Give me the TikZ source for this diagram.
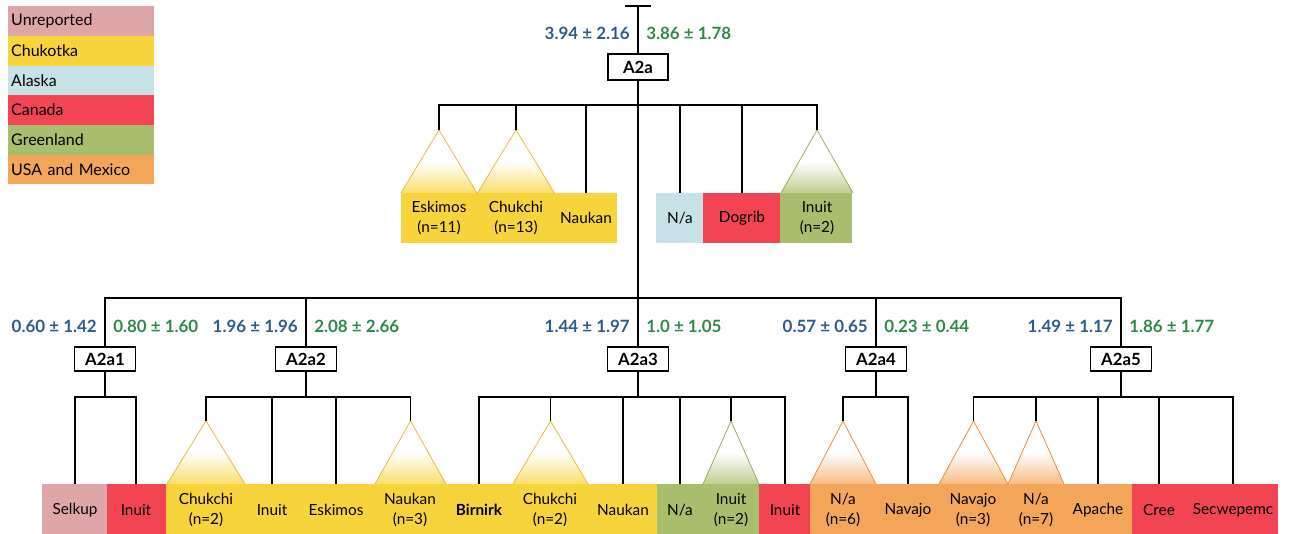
\documentclass[tikz,border=0pt]{standalone}
\usepackage{fontspec}
\setmainfont{Lato}
\usetikzlibrary{calc}
\definecolor{cUnrep}{HTML}{DFA6A7}
\definecolor{cChuk}{HTML}{F8D43C}
\definecolor{cAlas}{HTML}{C6E2E7}
\definecolor{cCan}{HTML}{F24453}
\definecolor{cGreen}{HTML}{A9BE6C}
\definecolor{cUSA}{HTML}{F3A55A}
\definecolor{cBlue}{HTML}{2D5B8C}
\definecolor{cGrn}{HTML}{2E8A4A}
\definecolor{oChuk}{HTML}{E6BC3C}
\definecolor{oGreen}{HTML}{98B062}
\definecolor{oUSA}{HTML}{EE8E3C}
\begin{document}
\begin{tikzpicture}[x=0.75pt,y=-0.75pt,
  br/.style={line width=1.4pt, black},
  hap/.style={draw, line width=1.4pt, fill=white, font=\bfseries\fontsize{12.6}{14}\selectfont, minimum width=45.75pt, minimum height=18pt, inner sep=0pt},
  lf/.style={font=\fontsize{11.5}{15}\selectfont, align=center, inner sep=0pt},
  vb/.style={anchor=east, text=cBlue, font=\bfseries\fontsize{12.7}{14}\selectfont, inner sep=0pt},
  vg/.style={anchor=west, text=cGrn, font=\bfseries\fontsize{12.7}{14}\selectfont, inner sep=0pt},
  leg/.style={anchor=north west, minimum height=22.25pt, text width=105.05pt, inner xsep=2.2pt, inner ysep=0pt, align=left, font=\fontsize{12}{14}\selectfont},
  tri/.style={line width=0.6pt},
]
\useasboundingbox (0,0) rectangle (1293,534);

% ---------- legend ----------
\node[leg, fill=cUnrep] (lg1) at (8,6) {Unreported};
\node[leg, fill=cChuk] (lg2) at (8,35.67) {Chukotka};
\node[leg, fill=cAlas] (lg3) at (8,65.33) {Alaska};
\node[leg, fill=cCan] (lg4) at (8,95) {Canada};
\node[leg, fill=cGreen] (lg5) at (8,124.67) {Greenland};
\node[leg, fill=cUSA] (lg6) at (8,154.33) {USA and Mexico};

% ---------- colour bands ----------
\fill[cChuk] (401,193) rectangle (617,243);
\fill[cAlas] (656,193) rectangle (703,243);
\fill[cCan] (703,193) rectangle (780,243);
\fill[cGreen] (780,193) rectangle (852,243);

\fill[cUnrep] (42,484) rectangle (107,534);
\fill[cCan] (107,484) rectangle (166,534);
\fill[cChuk] (166,484) rectangle (657,534);
\fill[cGreen] (657,484) rectangle (759,534);
\fill[cCan] (759,484) rectangle (810,534);
\fill[cUSA] (810,484) rectangle (1132,534);
\fill[cCan] (1132,484) rectangle (1278,534);

% ---------- triangles (collapsed clades) ----------
\newcommand{\clade}[5]{% name, x, half width, apex y, colour
  \coordinate (#1) at (#2,#4);
  \shade[top color=white, bottom color=#5!75, middle color=white] (#1) -- ++(-#3,63) -- ++(2*#3,0) -- cycle;
}
\clade{tEsk}{439}{38}{130}{cChuk}
\clade{tChk}{516}{38.5}{130}{cChuk}
\clade{tInu}{817}{36}{130}{cGreen}
\clade{tChk2}{206}{39}{421}{cChuk}
\clade{tNau2}{410.5}{35.5}{421}{cChuk}
\clade{tChk3}{550.5}{37.5}{421}{cChuk}
\clade{tInu3}{731}{28}{421}{cGreen}
\clade{tNa4}{843}{33}{421}{cUSA}
\clade{tNav5}{973.5}{34.5}{421}{cUSA}
\clade{tNa5}{1036}{28}{421}{cUSA}
\draw[tri, oChuk] (tEsk) -- ++(-38,63) (tEsk) -- ++(38,63);
\draw[tri, oChuk] (tChk) -- ++(-38.5,63) (tChk) -- ++(38.5,63);
\draw[tri, oGreen] (tInu) -- ++(-36,63) (tInu) -- ++(36,63);
\draw[tri, oChuk] (tChk2) -- ++(-39,63) (tChk2) -- ++(39,63);
\draw[tri, oChuk] (tNau2) -- ++(-35.5,63) (tNau2) -- ++(35.5,63);
\draw[tri, oChuk] (tChk3) -- ++(-37.5,63) (tChk3) -- ++(37.5,63);
\draw[tri, oGreen] (tInu3) -- ++(-28,63) (tInu3) -- ++(28,63);
\draw[tri, oUSA] (tNa4) -- ++(-33,63) (tNa4) -- ++(33,63);
\draw[tri, oUSA] (tNav5) -- ++(-34.5,63) (tNav5) -- ++(34.5,63);
\draw[tri, oUSA] (tNa5) -- ++(-28,63) (tNa5) -- ++(28,63);

% ---------- leaf tips (free ends of connectors) ----------
\coordinate (pNauk) at (586,193);
\coordinate (pNa) at (680,193);
\coordinate (pDog) at (742,193);
\coordinate (pSel) at (75,484);
\coordinate (pInu1) at (136,484);
\coordinate (pInu2) at (272,484);
\coordinate (pEsk2) at (336,484);
\coordinate (pBir) at (479,484);
\coordinate (pNau3) at (623,484);
\coordinate (pNa3) at (680,484);
\coordinate (pInu3) at (785,484);
\coordinate (pNav4) at (908,484);
\coordinate (pApa) at (1098,484);
\coordinate (pCree) at (1159,484);
\coordinate (pSec) at (1233,484);

% ---------- haplogroup boxes ----------
\coordinate (top) at (638,6);
\node[hap, minimum height=19.5pt, minimum width=45pt] (A2a) at (638,67) {A2a};
\node[hap] (A2a1) at (105,359) {A2a1};
\node[hap] (A2a2) at (306,359) {A2a2};
\node[hap] (A2a3) at (638,359) {A2a3};
\node[hap] (A2a4) at (876,359) {A2a4};
\node[hap] (A2a5) at (1121,359) {A2a5};

% ---------- connectors ----------
\draw[br] ($(top)+(-13,0)$) -- ($(top)+(13,0)$);
\draw[br] (top) -- (A2a.north);
\foreach \c in {tEsk,tChk,pNauk,pNa,pDog,tInu}
  \draw[br] (A2a.south) -- ++(0,24) -| (\c);
\foreach \c in {A2a1,A2a2,A2a3,A2a4,A2a5}
  \draw[br] (A2a.south) -- ++(0,217) -| (\c.north);
\foreach \c in {pSel,pInu1}
  \draw[br] (A2a1.south) -- ++(0,25) -| (\c);
\foreach \c in {tChk2,pInu2,pEsk2,tNau2}
  \draw[br] (A2a2.south) -- ++(0,25) -| (\c);
\foreach \c in {pBir,tChk3,pNau3,pNa3,tInu3,pInu3}
  \draw[br] (A2a3.south) -- ++(0,25) -| (\c);
\foreach \c in {tNa4,pNav4}
  \draw[br] (A2a4.south) -- ++(0,25) -| (\c);
\foreach \c in {tNav5,tNa5,pApa,pCree,pSec}
  \draw[br] (A2a5.south) -- ++(0,25) -| (\c);

% ---------- values ----------
\node[vb] (b0) at (630,33) {3.94 ± 2.16};
\node[vg] (g0) at (646,33) {3.86 ± 1.78};
\node[vb] (b1) at (97,326) {0.60 ± 1.42};
\node[vg] (g1) at (113,326) {0.80 ± 1.60};
\node[vb] (b2) at (298,326) {1.96 ± 1.96};
\node[vg] (g2) at (314,326) {2.08 ± 2.66};
\node[vb] (b3) at (630,326) {1.44 ± 1.97};
\node[vg] (g3) at (646,326) {1.0 ± 1.05};
\node[vb] (b4) at (868,326) {0.57 ± 0.65};
\node[vg] (g4) at (884,326) {0.23 ± 0.44};
\node[vb] (b5) at (1113,326) {1.49 ± 1.17};
\node[vg] (g5) at (1129,326) {1.86 ± 1.77};

% ---------- leaf labels ----------
\node[lf] (lEsk) at (439,218) {Eskimos\\(n=11)};
\node[lf] (lChk) at (516,218) {Chukchi\\(n=13)};
\node[lf] (lNauk) at (586,218) {Naukan};
\node[lf] (lNa) at (680,218) {N/a};
\node[lf] (lDog) at (742,218) {Dogrib};
\node[lf] (lInu) at (817,218) {Inuit\\(n=2)};

\node[lf] (lSel) at (75,510) {Selkup};
\node[lf] (lInu1) at (136,510) {Inuit};
\node[lf] (lChk2) at (206,510) {Chukchi\\(n=2)};
\node[lf] (lInu2) at (272,510) {Inuit};
\node[lf] (lEsk2) at (336,510) {Eskimos};
\node[lf] (lNau2) at (410,510) {Naukan\\(n=3)};
\node[lf, font=\bfseries\fontsize{11.5}{15}\selectfont] (lBir) at (479,510) {Birnirk};
\node[lf] (lChk3) at (550,510) {Chukchi\\(n=2)};
\node[lf] (lNau3) at (623,510) {Naukan};
\node[lf] (lNa3) at (680,510) {N/a};
\node[lf] (lInu3b) at (731,510) {Inuit\\(n=2)};
\node[lf] (lInu3) at (785,510) {Inuit};
\node[lf] (lNa4) at (843,510) {N/a\\(n=6)};
\node[lf] (lNav4) at (908,510) {Navajo};
\node[lf] (lNav5) at (973,510) {Navajo\\(n=3)};
\node[lf] (lNa5) at (1036,510) {N/a\\(n=7)};
\node[lf] (lApa) at (1098,510) {Apache};
\node[lf] (lCree) at (1159,510) {Cree};
\node[lf] (lSec) at (1233,510) {Secwepemc};
\end{tikzpicture}
\end{document}
